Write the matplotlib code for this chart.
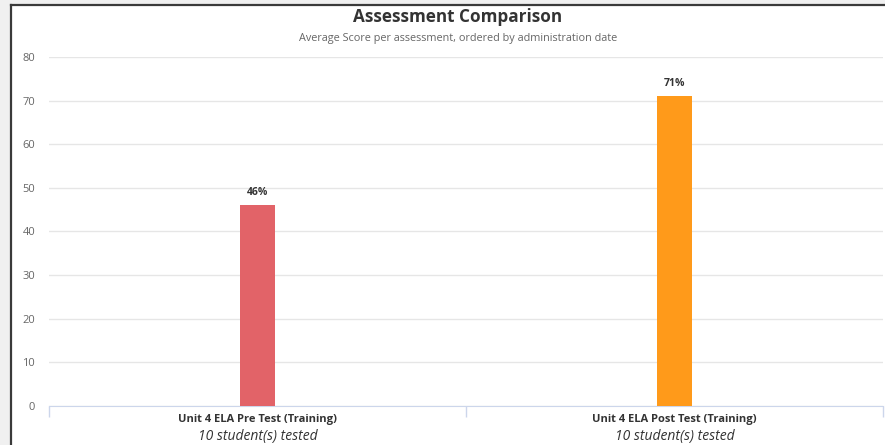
import matplotlib.pyplot as plt
from matplotlib.patches import Rectangle
from matplotlib.lines import Line2D

categories = ["Unit 4 ELA Pre Test (Training)", "Unit 4 ELA Post Test (Training)"]
students = ["10 student(s) tested", "10 student(s) tested"]
scores = [46, 71]
colors = ["#e26368", "#ff9a1a"]
yticks = [0, 10, 20, 30, 40, 50, 60, 70, 80]

plt.rcParams["font.family"] = ["Open Sans", "DejaVu Sans"]

fig = plt.figure(figsize=(8.85, 4.45), dpi=100)
fig.patch.set_facecolor("#f0f0f0")

# white chart panel with dark left/top frame
fig.patches.append(Rectangle((11 / 885, 0), 1, 1 - 5 / 445, transform=fig.transFigure,
                             facecolor="white", edgecolor="none", zorder=-1))
fig.lines.append(Line2D([10.5 / 885, 10.5 / 885], [0, 1 - 4.5 / 445], transform=fig.transFigure,
                        color="#3a3a3a", lw=1.6))
fig.lines.append(Line2D([10.5 / 885, 1], [1 - 4.5 / 445, 1 - 4.5 / 445], transform=fig.transFigure,
                        color="#3a3a3a", lw=1.6))

ax = fig.add_axes([49 / 885, 1 - 406 / 445, 834 / 885, 349 / 445])
ax.set_facecolor("none")

x = range(len(categories))
ax.bar(x, scores, width=0.086, color=colors, zorder=3)
for i, v in enumerate(scores):
    ax.text(i, v + 1.6, f"{v}%", ha="center", va="bottom", fontsize=7.5,
            fontweight="bold", color="#333333", zorder=4)

ax.set_xlim(-0.5, 1.5)
ax.set_ylim(0, 80)
ax.set_yticks(yticks)
ax.grid(axis="y", color="#e6e6e6", lw=1, zorder=0)
ax.tick_params(axis="y", length=0, labelsize=8, labelcolor="#666666", pad=10)

ax.set_xticks([-0.5, 0.5, 1.5])
ax.set_xticklabels([])
ax.tick_params(axis="x", length=8, color="#ccd6eb", width=1)
for s in ["top", "right", "left"]:
    ax.spines[s].set_visible(False)
ax.spines["bottom"].set_color("#ccd6eb")

for i, (c, s) in enumerate(zip(categories, students)):
    ax.text(i, -3.0, c, transform=ax.transData, ha="center", va="center",
            fontsize=8, fontweight="bold", color="#333333")
    ax.text(i, -6.9, s, transform=ax.transData, ha="center", va="center",
            fontsize=10, style="italic", color="#333333")

fig.text(458 / 885, 1 - 17 / 445, "Assessment Comparison", ha="center", va="center",
         fontsize=12.3, fontweight="bold", color="#333333")
fig.text(458 / 885, 1 - 38 / 445, "Average Score per assessment, ordered by administration date",
         ha="center", va="center", fontsize=7.8, color="#666666")

fig.savefig("out.png", dpi=100, facecolor=fig.get_facecolor())
